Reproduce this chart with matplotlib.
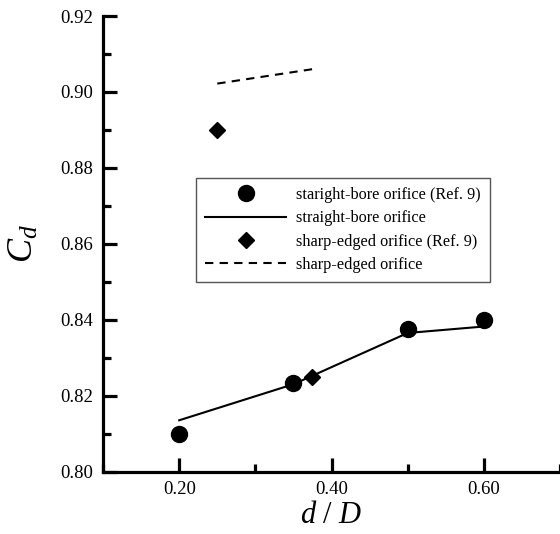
import numpy as np
import matplotlib.pyplot as plt
from matplotlib.ticker import MultipleLocator

plt.rcParams['font.family'] = ['Liberation Serif', 'DejaVu Serif']
plt.rcParams['mathtext.fontset'] = 'custom'
plt.rcParams['mathtext.it'] = 'Liberation Serif:italic'
plt.rcParams['mathtext.rm'] = 'Liberation Serif'

# Straight-bore orifice, Ref. 9 (points) and present results (line)
sb_ref_x = [0.20, 0.35, 0.50, 0.60]
sb_ref_y = [0.810, 0.8233, 0.8375, 0.840]
sb_x = [0.20, 0.35, 0.50, 0.60]
sb_y = [0.8135, 0.8230, 0.8365, 0.8382]

# Sharp-edged orifice, Ref. 9 (points) and present results (line)
se_ref_x = [0.25, 0.375]
se_ref_y = [0.890, 0.825]
se_x = [0.25, 0.375]
se_y = [0.9022, 0.906]

fig = plt.figure(figsize=(5.6, 5.34), dpi=100)
ax = fig.add_axes([0.184, 0.117, 0.816, 0.853])

ax.plot(sb_ref_x, sb_ref_y, 'o', color='black', markersize=11.5,
        linestyle='none', label='staright-bore orifice (Ref. 9)', zorder=3)
ax.plot(sb_x, sb_y, '-', color='black', linewidth=1.5, label='straight-bore orifice')
ax.plot(se_ref_x, se_ref_y, 'D', color='black', markersize=8,
        linestyle='none', label='sharp-edged orifice (Ref. 9)', zorder=3)
ax.plot(se_x, se_y, '--', color='black', linewidth=1.5, dashes=(4, 3),
        label='sharp-edged orifice')

ax.set_xlim(0.10, 0.70)
ax.set_ylim(0.80, 0.92)
ax.set_xticks([0.2, 0.4, 0.6])
ax.set_xticklabels(['0.20', '0.40', '0.60'])
ax.xaxis.set_minor_locator(MultipleLocator(0.1))
yt = np.arange(0.80, 0.921, 0.02)
ax.set_yticks(yt)
ax.set_yticklabels(['%.2f' % v for v in yt])
ax.yaxis.set_minor_locator(MultipleLocator(0.01))

ax.spines['top'].set_visible(False)
ax.spines['right'].set_visible(False)
ax.spines['left'].set_linewidth(2.3)
ax.spines['bottom'].set_linewidth(2.3)
ax.tick_params(which='major', direction='in', length=10, width=2.3, labelsize=13.5, pad=7)
ax.tick_params(which='minor', direction='in', length=5.5, width=2.3)

ax.set_xlabel('$d$ / $D$', fontsize=22, labelpad=2)
ax.set_ylabel('$C_d$', fontsize=26, labelpad=14)

leg = ax.legend(loc='upper left', bbox_to_anchor=(0.2035, 0.644), borderaxespad=0,
                fontsize=11.7, frameon=True, fancybox=False, edgecolor='#555555',
                framealpha=1, handlelength=5.0, borderpad=0.55, labelspacing=0.45,
                handletextpad=0.6)
leg.get_frame().set_linewidth(1.0)
leg.set_zorder(5)

fig.savefig('out.png', dpi=100)
